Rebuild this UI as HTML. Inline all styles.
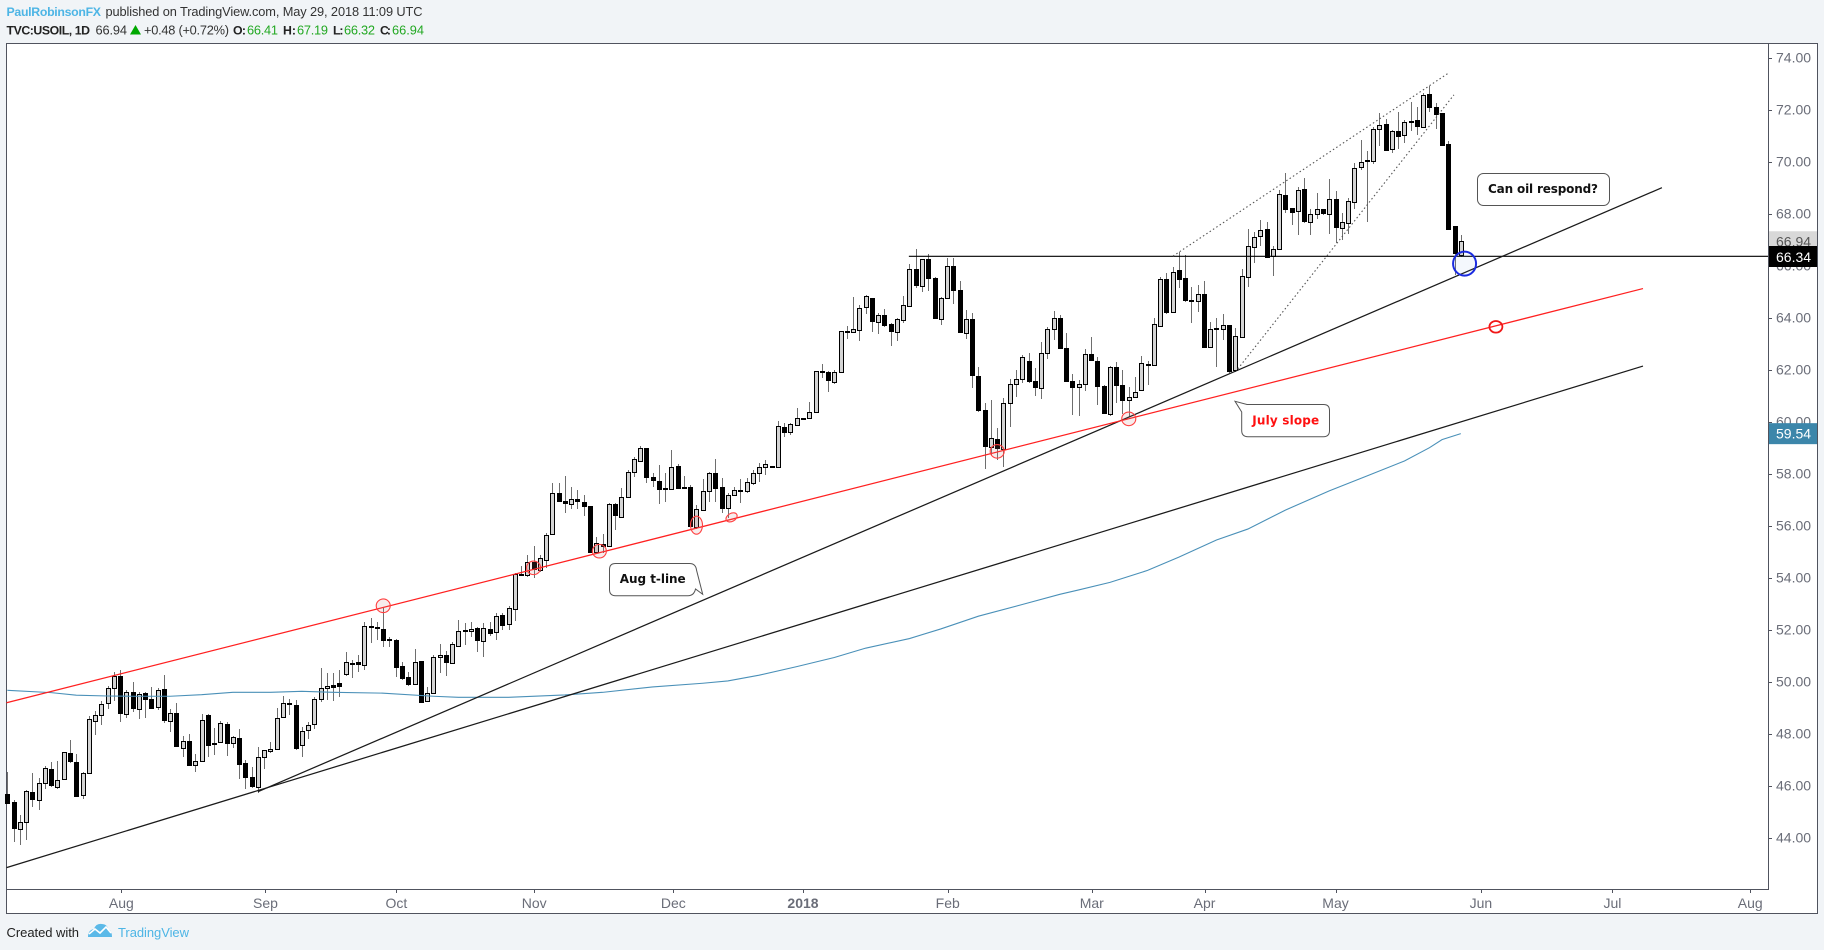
<!DOCTYPE html>
<html lang="en">
<head>
<meta charset="utf-8">
<title>USOIL daily chart</title>
<style>
html,body{margin:0;padding:0;background:#f1f4f7;}
body{width:1824px;height:950px;overflow:hidden;font-family:"Liberation Sans",sans-serif;}
svg{display:block;}
</style>
</head>
<body>
<svg id="chart" xmlns="http://www.w3.org/2000/svg" width="1824" height="950" viewBox="0 0 1824 950">
  <rect x="0" y="0" width="1824" height="950" fill="#f1f4f7"/>
  <rect x="6.5" y="43.5" width="1811" height="870" fill="#ffffff" stroke="#50535e" stroke-width="1"/>
  <g font-family="'Liberation Sans',sans-serif" font-size="12.8">
    <text x="6.5" y="16" textLength="94.5" font-size="12.3" fill="#4db5e5" font-weight="bold">PaulRobinsonFX</text>
    <text x="105.5" y="16" textLength="317" fill="#333333">published on TradingView.com, May 29, 2018 11:09 UTC</text>
    <text x="6.5" y="34.5" textLength="83.5" font-size="12.3" fill="#222222" font-weight="bold">TVC:USOIL, 1D</text>
    <text x="95.5" y="34.5" textLength="31.5" fill="#333333">66.94</text>
    <polygon points="130,34.5 141,34.5 135.5,25" fill="#00a800"/>
    <text x="144" y="34.5" textLength="85" fill="#333333">+0.48 (+0.72%)</text>
    <text x="233" y="34.5" textLength="13" font-size="12.3" fill="#222222" font-weight="bold">O:</text>
    <text x="247" y="34.5" textLength="31" fill="#22a822">66.41</text>
    <text x="283" y="34.5" textLength="13" font-size="12.3" fill="#222222" font-weight="bold">H:</text>
    <text x="297" y="34.5" textLength="31" fill="#22a822">67.19</text>
    <text x="333" y="34.5" textLength="10.5" font-size="12.3" fill="#222222" font-weight="bold">L:</text>
    <text x="344" y="34.5" textLength="31" fill="#22a822">66.32</text>
    <text x="380" y="34.5" textLength="11" font-size="12.3" fill="#222222" font-weight="bold">C:</text>
    <text x="392" y="34.5" textLength="32" fill="#22a822">66.94</text>
  </g>
  <g id="candles" shape-rendering="crispEdges"></g>
  <g id="overlays"></g>
  <g>
    <path d="M615.5,563.5 H689.5 Q695.7,563.5 696.5,570 L702.7,594.3 L695.5,589 Q694,595.7 688,595.7 H615.5 Q609.5,595.7 609.5,589.5 V569.5 Q609.5,563.5 615.5,563.5 Z" fill="#ffffff" stroke="#555555" stroke-width="1"/>
    <text x="652.7" y="583" text-anchor="middle" font-family="'DejaVu Sans',sans-serif" font-size="12" font-weight="bold" fill="#111111" textLength="66">Aug t-line</text>
  </g>
  <g>
    <path d="M1247,404.5 H1323.5 Q1329.5,404.5 1329.5,410.5 V430.5 Q1329.5,436.7 1323.5,436.7 H1248 Q1241.7,436.7 1241.7,430.5 V412 L1235,401.3 Z" fill="#ffffff" stroke="#555555" stroke-width="1"/>
    <text x="1285.7" y="424.5" text-anchor="middle" font-family="'DejaVu Sans',sans-serif" font-size="12" font-weight="bold" fill="#ff1010" textLength="67">July slope</text>
  </g>
  <g>
    <rect x="1477.5" y="173.5" width="132" height="32" rx="6" ry="6" fill="#ffffff" stroke="#555555" stroke-width="1"/>
    <text x="1543" y="193" text-anchor="middle" font-family="'DejaVu Sans',sans-serif" font-size="12" font-weight="bold" fill="#111111" textLength="110">Can oil respond?</text>
  </g>
  <g id="priceAxis" font-family="'Liberation Sans',sans-serif" font-size="14"></g>
  <g id="timeAxis" font-family="'Liberation Sans',sans-serif" font-size="14"></g>
  <g font-family="'Liberation Sans',sans-serif" font-size="13">
    <text x="6.5" y="937" textLength="72.5" fill="#222222">Created with</text>
    <g>
      <path d="M88,937 Q88,930 94,929 Q96,923 102,924 Q107,924 108,929 Q112,931 112,937 Z" fill="#5bb9e8"/>
      <path d="M89,934 L95,929 L100,933 L106,927 L111,933" fill="none" stroke="#ffffff" stroke-width="1.6"/>
    </g>
    <text x="118" y="937" textLength="71" fill="#4db5e5">TradingView</text>
  </g>
</svg>
<script>
const opens = [
45.67,45.36,44.32,44.59,45.74,45.44,46.09,46.64,45.96,46.24,
47.26,46.90,45.65,46.48,48.50,48.71,49.17,49.75,50.22,48.77,
49.59,48.96,49.55,49.32,49.01,49.71,48.50,48.78,47.46,47.71,
46.81,46.94,48.71,47.63,47.67,48.36,47.63,47.82,46.86,46.32,
45.94,47.09,47.32,47.40,48.63,49.17,49.09,47.55,48.13,48.36,
49.32,49.74,49.86,49.94,50.28,50.72,50.76,50.63,52.13,52.09,
52.01,51.63,51.59,50.60,50.18,49.90,50.80,49.27,49.55,50.94,
51.01,50.71,51.36,51.98,51.94,52.05,51.58,52.01,51.90,52.55,
52.21,52.78,54.13,54.10,54.62,54.28,54.69,55.67,57.25,56.94,
56.82,57.01,56.90,56.74,55.00,55.31,55.23,56.82,56.35,57.09,
58.05,58.50,58.98,57.87,57.72,57.44,57.40,58.30,57.48,57.48,
55.94,56.59,57.32,58.01,57.48,56.67,57.17,57.36,57.35,57.65,
58.01,58.24,58.28,58.27,59.80,59.59,59.86,60.13,60.13,60.36,
61.94,61.90,61.51,61.90,63.48,63.44,63.51,64.40,64.76,63.85,
64.09,63.76,63.46,63.90,64.44,65.86,65.21,66.24,65.53,63.96,
64.77,65.98,65.05,63.42,63.94,61.76,60.44,59.04,59.32,58.95,
60.73,61.44,61.63,62.32,61.55,61.31,62.63,63.55,63.97,62.82,
61.55,61.32,61.44,62.59,62.32,61.37,60.31,62.09,61.40,60.85,
60.94,61.21,62.21,62.17,63.69,65.48,64.23,65.82,65.51,64.67,
64.65,64.90,62.86,63.59,63.58,63.71,61.97,63.27,65.55,66.73,
67.16,67.40,66.39,66.64,68.71,68.21,68.12,68.94,67.69,68.00,
68.17,68.00,68.55,67.46,67.65,68.46,69.81,70.05,70.04,71.25,
71.44,70.50,71.17,71.01,71.55,71.59,71.35,72.59,72.09,71.86,
70.67,67.51,66.41];
const highs = [
46.54,45.45,44.87,45.83,46.48,46.31,46.76,46.91,46.95,47.28,
47.76,47.21,46.51,48.68,48.87,49.26,49.84,50.39,50.45,49.68,
49.98,49.59,49.59,49.78,49.77,50.26,48.95,49.17,47.91,47.99,
47.22,48.76,48.76,48.21,48.50,48.44,47.91,48.18,46.99,46.73,
47.50,47.37,47.69,48.98,49.45,49.33,49.30,48.27,48.44,49.40,
50.51,50.32,50.32,50.45,51.14,50.83,51.03,52.31,52.46,52.31,
52.82,51.73,51.64,50.77,50.39,51.25,50.80,49.81,51.03,51.45,
51.19,51.54,52.37,52.24,52.31,52.12,52.24,52.31,52.63,52.63,
52.91,54.17,54.45,54.87,55.22,54.87,55.73,57.63,57.65,57.91,
57.50,57.37,57.18,56.74,55.58,55.67,56.86,56.86,57.44,58.14,
58.65,59.07,58.98,58.01,58.33,58.01,58.91,58.37,57.91,57.57,
56.80,57.78,58.05,58.55,57.82,57.25,57.50,57.78,57.82,58.14,
58.40,58.53,58.28,60.03,59.96,59.96,60.54,60.13,60.74,61.95,
62.22,61.96,61.99,63.49,63.68,64.81,64.49,64.87,64.77,64.19,
64.33,63.78,63.97,64.85,66.07,66.64,66.24,66.45,65.58,64.81,
66.28,66.28,65.40,64.30,64.17,62.10,60.73,60.83,59.74,60.90,
61.63,61.99,62.55,62.65,62.05,63.08,63.63,64.26,64.10,63.40,
61.82,61.60,62.80,63.27,62.50,61.41,62.14,62.31,61.99,61.32,
61.71,62.53,62.33,63.98,65.58,65.73,65.96,66.54,66.41,65.19,
65.26,65.41,63.85,63.98,64.14,63.72,63.59,65.86,67.40,67.31,
67.76,67.69,66.76,68.91,69.55,68.21,69.01,69.39,68.17,68.78,
68.17,69.33,68.87,68.01,68.59,69.94,70.83,70.41,71.35,71.86,
71.63,71.22,71.92,71.60,72.31,72.12,72.63,72.91,72.25,71.89,
70.80,67.51,67.19];
const lows = [
45.30,43.85,43.72,43.91,45.19,45.07,45.87,45.96,45.87,46.22,
46.89,45.58,45.49,46.45,47.95,48.33,48.95,49.26,48.45,48.62,
48.85,48.57,48.62,48.95,48.91,48.42,48.08,47.48,47.12,46.77,
46.54,46.91,47.12,47.18,47.63,47.16,47.44,46.24,45.86,45.93,
45.71,46.66,47.24,47.37,48.62,48.72,47.37,47.09,47.81,48.19,
49.23,49.30,49.27,49.42,50.22,50.15,50.39,50.45,51.50,51.60,
51.32,51.35,50.17,50.07,49.83,49.87,49.17,49.23,49.53,50.32,
50.23,50.68,51.32,51.41,51.73,51.15,50.96,51.76,51.60,51.99,
51.99,52.33,54.07,54.04,53.98,54.23,54.36,55.64,56.92,56.50,
56.63,56.63,56.37,54.94,54.94,54.94,55.19,55.83,56.28,57.05,
57.89,58.46,57.63,57.50,56.84,56.92,57.37,57.41,57.40,55.94,
55.86,56.58,56.91,56.92,56.48,56.28,57.14,56.89,57.27,57.57,
57.68,57.95,58.27,58.27,59.42,59.49,59.85,60.12,60.12,60.35,
61.69,61.15,61.44,61.86,63.17,63.42,63.12,64.14,63.46,63.39,
63.63,62.92,63.12,63.78,64.42,65.15,65.00,65.04,63.95,63.73,
64.74,64.53,63.42,63.19,61.31,60.36,58.17,58.72,58.53,58.27,
59.81,60.94,61.50,61.50,60.99,60.86,62.40,63.14,62.78,61.51,
60.26,60.23,61.18,62.33,60.64,60.30,60.23,60.71,60.31,60.19,
60.92,61.18,61.41,62.14,63.66,64.14,64.19,65.16,64.62,63.81,
64.23,62.84,62.85,62.12,63.14,61.86,61.92,63.27,65.19,66.09,
66.77,66.28,65.62,66.64,68.04,67.57,67.18,67.65,67.18,67.80,
67.95,67.22,66.86,66.99,67.21,68.18,69.68,67.69,69.91,70.60,
70.41,70.32,70.49,70.73,71.18,71.03,71.32,71.92,71.25,70.60,
67.37,65.64,66.32];
const closes = [
45.31,44.35,44.59,45.78,45.46,46.09,46.67,46.00,46.21,47.28,
46.93,45.58,46.48,48.55,48.71,49.13,49.75,50.22,48.77,49.59,
48.96,49.51,49.31,48.96,49.67,48.50,48.78,47.50,47.71,46.77,
46.94,48.51,47.54,47.58,48.40,47.62,47.86,46.81,46.31,45.96,
47.09,47.36,47.40,48.59,49.17,49.13,47.42,48.12,48.35,49.32,
49.74,49.83,49.77,49.81,50.75,50.70,50.65,52.13,52.08,52.05,
51.57,51.58,50.54,50.10,49.87,50.75,49.19,49.55,50.94,51.01,
50.73,51.44,51.94,51.92,52.01,51.57,52.05,51.85,52.51,52.15,
52.82,54.13,54.08,54.62,54.28,54.74,55.63,57.25,56.92,56.82,
57.01,56.90,56.73,54.96,55.32,55.19,56.82,56.37,57.09,58.05,
58.55,58.98,57.85,57.73,57.37,57.39,58.27,57.42,57.42,55.96,
56.63,57.32,58.01,57.42,56.66,57.17,57.36,57.34,57.67,58.01,
58.24,58.36,58.27,59.82,59.58,59.90,60.13,60.12,60.36,61.94,
61.89,61.58,61.90,63.48,63.46,63.55,64.39,64.82,63.85,64.09,
63.69,63.46,63.94,64.48,65.86,65.23,66.24,65.50,63.96,64.77,
65.98,65.04,63.42,63.94,61.77,60.41,59.04,59.36,58.95,60.73,
61.44,61.63,62.47,61.54,61.31,62.63,63.55,63.97,62.81,61.54,
61.31,61.44,62.59,62.35,61.35,60.31,62.09,61.39,60.81,60.94,
61.15,62.25,62.15,63.75,65.48,64.17,65.74,65.46,64.65,64.65,
64.90,62.85,63.55,63.55,63.71,61.91,63.28,65.59,66.74,67.09,
67.36,66.31,66.63,68.75,68.14,68.03,68.90,67.68,68.00,68.17,
67.98,68.55,67.46,67.67,68.48,69.75,69.98,70.01,71.25,71.40,
70.42,71.17,70.96,71.51,71.50,71.35,72.55,72.08,71.81,70.62,
67.39,66.46,66.94];

const maBars = [0,7,11,16,20,26,31,36,42,47,52,60,68,72,80,89,95,103,111,115,120,126,132,137,144,149,155,162,168,171,176,182,187,193,198,204,211,217,223,227,229,232];
const maValues = [49.67,49.58,49.48,49.45,49.44,49.44,49.50,49.59,49.59,49.63,49.59,49.56,49.44,49.40,49.40,49.49,49.59,49.80,49.94,50.03,50.25,50.58,50.93,51.29,51.66,52.03,52.52,52.97,53.36,53.53,53.82,54.28,54.79,55.45,55.87,56.60,57.34,57.91,58.49,59.00,59.31,59.54];

const priceTicks = [44,46,48,50,52,54,56,58,60,62,64,66,68,70,72,74];
const timeTickLabels = ["Aug","Sep","Oct","Nov","Dec","2018","Feb","Mar","Apr","May","Jun","Jul","Aug"];
const timeTickBars = [18.2,41.2,62.1,84.1,106.3,127,150.1,173.1,191.1,212,235.2,256.2,278.2];

const blackLine1Bars = [-0.13,261.08];
const blackLine1Prices = [42.85,62.14];
const blackLine2Bars = [40.01,264.1];
const blackLine2Prices = [45.77,69.0];
const redLineBars = [-0.13,261.08];
const redLinePrices = [49.19,65.12];
const levelBars = [143.9,281.1];
const levelPrices = [66.36,66.36];
const dottedUpperBars = [186.06,230.1];
const dottedUpperPrices = [66.37,73.42];
const dottedLowerBars = [196.4,230.9];
const dottedLowerPrices = [62.03,72.57];

const touchBars = [60.0,84.0,94.5,110.0,115.6,158.0,179.0];
const touchPrices = [52.92,54.38,55.02,56.02,56.32,58.86,60.11];
const projectedBars = [237.6];
const projectedPrices = [63.65];
const targetBars = [232.6];
const targetPrices = [66.08];

const lastPrice = 66.94;
const levelPrice = 66.34;
const maLast = 59.54;

const NS = 'http://www.w3.org/2000/svg';
const barOrigin = 7.33, barStep = 6.265;
const priceRef = 64, priceRefY = 317.7, pxPerUnit = 26;
function xScale(i){ return barOrigin + barStep * i; }
function yScale(p){ return priceRefY + (priceRef - p) * pxPerUnit; }
function make(tag, parent){
  const el = document.createElementNS(NS, tag);
  parent.appendChild(el);
  return el;
}
const candleRoot = document.getElementById('candles');
const overlayRoot = document.getElementById('overlays');
const priceAxis = document.getElementById('priceAxis');
const timeAxis = document.getElementById('timeAxis');

opens.forEach(function(o, i){
  const c = closes[i];
  const cx = Math.round(xScale(i));
  const g = make('g', candleRoot);
  
  
  const wick = make('rect', g);
  
  
  const yh = Math.round(yScale(highs[i])), yl = Math.round(yScale(lows[i]));
  wick.setAttribute('x', cx);
  wick.setAttribute('y', yh);
  wick.setAttribute('width', 1);
  wick.setAttribute('height', Math.max(1, yl - yh));
  wick.setAttribute('fill', '#6e6e6e');
  const body = make('rect', g);
  
  
  const top = Math.round(yScale(Math.max(o, c))), bot = Math.round(yScale(Math.min(o, c)));
  if (c >= o) {
    body.setAttribute('x', cx - 1.5);
    body.setAttribute('y', top + 0.5);
    body.setAttribute('width', 4);
    body.setAttribute('height', Math.max(2, bot - top));
    body.setAttribute('fill', '#d4d4d4');
    body.setAttribute('stroke', '#000000');
    body.setAttribute('stroke-width', 1);
  } else {
    body.setAttribute('x', cx - 2);
    body.setAttribute('y', top);
    body.setAttribute('width', 5);
    body.setAttribute('height', Math.max(2, bot - top));
    body.setAttribute('fill', '#000000');
  }
});

function drawLine(bars, prices, color, width, dash, name){
  const el = make('polyline', overlayRoot);
  
  
  el.setAttribute('points', bars.map(function(b, k){ return xScale(b).toFixed(2) + ',' + yScale(prices[k]).toFixed(2); }).join(' '));
  el.setAttribute('fill', 'none');
  el.setAttribute('stroke', color);
  el.setAttribute('stroke-width', width);
  if (dash) el.setAttribute('stroke-dasharray', dash);
  return el;
}
drawLine(maBars, maValues, '#4a90b8', 1.1, null, 'moving-average-200');
drawLine(levelBars, levelPrices, '#000000', 1.1, null, 'horizontal-support-level');
drawLine(blackLine1Bars, blackLine1Prices, '#1a1a1a', 1.25, null, 'lower-black-trendline');
drawLine(blackLine2Bars, blackLine2Prices, '#1a1a1a', 1.25, null, 'aug-black-trendline');
drawLine(redLineBars, redLinePrices, '#ff2020', 1.25, null, 'july-red-trendline');
drawLine(dottedUpperBars, dottedUpperPrices, '#555555', 1.1, '1.5 2.5', 'rising-wedge-upper');
drawLine(dottedLowerBars, dottedLowerPrices, '#555555', 1.1, '1.5 2.5', 'rising-wedge-lower');

touchBars.forEach(function(b, k){
  const el = make('ellipse', overlayRoot);
  
  
  el.setAttribute('cx', xScale(b).toFixed(2));
  el.setAttribute('cy', yScale(touchPrices[k]).toFixed(2));
  el.setAttribute('rx', k === 4 ? 6 : (k === 3 ? 6 : 7));
  el.setAttribute('ry', k === 4 ? 4 : (k === 3 ? 9 : 6.8));
  if (k === 4) el.setAttribute('transform', 'rotate(-30 ' + xScale(b).toFixed(2) + ' ' + yScale(touchPrices[k]).toFixed(2) + ')');
  el.setAttribute('fill', 'rgba(200,120,120,0.14)');
  el.setAttribute('stroke', '#ff4040');
  el.setAttribute('stroke-width', 1.1);
});
projectedBars.forEach(function(b, k){
  const el = make('ellipse', overlayRoot);
  
  
  el.setAttribute('cx', xScale(b).toFixed(2));
  el.setAttribute('cy', yScale(projectedPrices[k]).toFixed(2));
  el.setAttribute('rx', 6.5);
  el.setAttribute('ry', 5.8);
  el.setAttribute('fill', 'none');
  el.setAttribute('stroke', '#f01818');
  el.setAttribute('stroke-width', 1.8);
});
targetBars.forEach(function(b, k){
  const el = make('ellipse', overlayRoot);
  
  
  el.setAttribute('cx', xScale(b).toFixed(2));
  el.setAttribute('cy', yScale(targetPrices[k]).toFixed(2));
  el.setAttribute('rx', 11.5);
  el.setAttribute('ry', 12);
  el.setAttribute('fill', 'rgba(120,170,230,0.08)');
  el.setAttribute('stroke', '#1a2be0');
  el.setAttribute('stroke-width', 2);
});

const pAxisLine = make('line', priceAxis);


pAxisLine.setAttribute('x1', 1768.5);
pAxisLine.setAttribute('y1', 43);
pAxisLine.setAttribute('x2', 1768.5);
pAxisLine.setAttribute('y2', 889.5);
pAxisLine.setAttribute('stroke', '#50535e');

priceTicks.forEach(function(p){
  const y = yScale(p);
  const t = make('line', priceAxis);
  
  
  t.setAttribute('x1', 1769);
  t.setAttribute('x2', 1772);
  t.setAttribute('y1', Math.round(y) + 0.5);
  t.setAttribute('y2', Math.round(y) + 0.5);
  t.setAttribute('stroke', '#50535e');
  const s = make('text', priceAxis);
  
  
  s.setAttribute('x', 1776);
  s.setAttribute('y', y + 5);
  s.setAttribute('fill', '#6a6d78');
  s.textContent = p.toFixed(2);
});

function priceTag(value, bg, fg, name, h, yTop){
  const y = yScale(value);
  const top = yTop === null ? y - h / 2 : yTop;
  const g = make('g', priceAxis);
  
  
  const r = make('rect', g);
  
  
  r.setAttribute('x', 1769);
  r.setAttribute('y', top);
  r.setAttribute('width', 48);
  r.setAttribute('height', h);
  r.setAttribute('fill', bg);
  const t = make('text', g);
  
  
  t.setAttribute('x', 1776);
  t.setAttribute('y', y + 5);
  t.setAttribute('fill', fg);
  t.textContent = value.toFixed(2);
}
priceTag(lastPrice, '#d8d8d8', '#555555', 'last-price-tag', 20, null);
priceTag(levelPrice, '#000000', '#ffffff', 'level-price-tag', 21, 246);
priceTag(maLast, '#3c86aa', '#ffffff', 'moving-average-tag', 21, null);

const tAxisLine = make('line', timeAxis);


tAxisLine.setAttribute('x1', 6);
tAxisLine.setAttribute('x2', 1769);
tAxisLine.setAttribute('y1', 889.5);
tAxisLine.setAttribute('y2', 889.5);
tAxisLine.setAttribute('stroke', '#50535e');

timeTickLabels.forEach(function(label, k){
  const x = xScale(timeTickBars[k]);
  const t = make('line', timeAxis);
  
  
  t.setAttribute('x1', Math.round(x) + 0.5);
  t.setAttribute('x2', Math.round(x) + 0.5);
  t.setAttribute('y1', 890);
  t.setAttribute('y2', 893);
  t.setAttribute('stroke', '#50535e');
  const s = make('text', timeAxis);
  
  
  s.setAttribute('x', x);
  s.setAttribute('y', 908);
  s.setAttribute('text-anchor', 'middle');
  s.setAttribute('fill', '#6a6d78');
  if (label === '2018') s.setAttribute('font-weight', 'bold');
  s.textContent = label;
});
</script>
</body>
</html>
